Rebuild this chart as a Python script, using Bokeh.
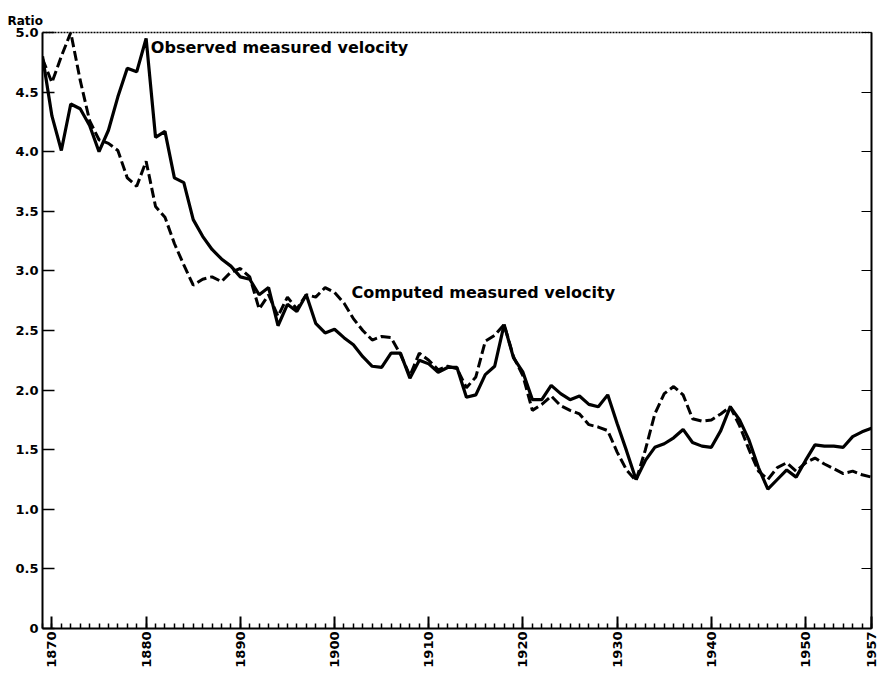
import math
from bokeh.plotting import figure
from bokeh.models import (Range1d, FixedTicker, LinearAxis, Label, ColumnDataSource)
from bokeh.embed import file_html
from bokeh.resources import INLINE

years = list(range(1869, 1958))

observed = [
    4.80, 4.30, 4.01, 4.40, 4.36, 4.22, 4.00, 4.18, 4.46, 4.70,   # 1869-1878
    4.67, 4.95, 4.12, 4.17, 3.78, 3.74, 3.43, 3.29, 3.18, 3.10,   # 1879-1888
    3.04, 2.95, 2.93, 2.80, 2.86, 2.54, 2.72, 2.66, 2.80, 2.56,   # 1889-1898
    2.48, 2.51, 2.44, 2.38, 2.28, 2.20, 2.19, 2.31, 2.31, 2.10,   # 1899-1908
    2.25, 2.22, 2.15, 2.19, 2.19, 1.94, 1.96, 2.13, 2.20, 2.55,   # 1909-1918
    2.27, 2.15, 1.92, 1.92, 2.04, 1.97, 1.92, 1.95, 1.88, 1.86,   # 1919-1928
    1.96, 1.72, 1.49, 1.25, 1.41, 1.52, 1.55, 1.60, 1.67, 1.56,   # 1929-1938
    1.53, 1.52, 1.66, 1.86, 1.75, 1.58, 1.35, 1.17, 1.25, 1.33,   # 1939-1948
    1.27, 1.41, 1.54, 1.53, 1.53, 1.52, 1.61, 1.65, 1.68,         # 1949-1957
]

computed = [
    4.78, 4.58, 4.80, 5.00, 4.60, 4.26, 4.10, 4.07, 4.01, 3.78,   # 1869-1878
    3.71, 3.92, 3.54, 3.45, 3.23, 3.05, 2.88, 2.93, 2.95, 2.91,   # 1879-1888
    2.99, 3.02, 2.95, 2.68, 2.80, 2.62, 2.78, 2.68, 2.80, 2.78,   # 1889-1898
    2.86, 2.82, 2.73, 2.60, 2.50, 2.42, 2.45, 2.44, 2.30, 2.12,   # 1899-1908
    2.31, 2.25, 2.17, 2.20, 2.18, 2.02, 2.11, 2.41, 2.46, 2.55,   # 1909-1918
    2.28, 2.12, 1.83, 1.88, 1.95, 1.87, 1.83, 1.80, 1.71, 1.69,   # 1919-1928
    1.66, 1.48, 1.33, 1.24, 1.50, 1.80, 1.97, 2.03, 1.96, 1.76,   # 1929-1938
    1.74, 1.75, 1.80, 1.86, 1.70, 1.50, 1.32, 1.25, 1.35, 1.39,   # 1939-1948
    1.32, 1.39, 1.43, 1.38, 1.34, 1.30, 1.32, 1.29, 1.27,         # 1949-1957
]

x_ticks = [1870, 1880, 1890, 1900, 1910, 1920, 1930, 1940, 1950, 1957]
y_ticks = [0, 0.5, 1.0, 1.5, 2.0, 2.5, 3.0, 3.5, 4.0, 4.5, 5.0]
y_tick_labels = ["0", "0.5", "1.0", "1.5", "2.0", "2.5", "3.0", "3.5", "4.0", "4.5", "5.0"]

FONT = "DejaVu Sans"

p = figure(width=878, height=670, output_backend="svg", toolbar_location=None,
           x_range=Range1d(1869, 1957), y_range=Range1d(0, 5.0),
           min_border_left=42, min_border_right=7, min_border_top=32,
           min_border_bottom=41, background_fill_color="white",
           border_fill_color="white")
p.outline_line_color = None
p.grid.visible = False

p.title.text = "Ratio"
p.title.align = "left"
p.title.offset = -35
p.title.text_font = FONT
p.title.text_font_size = "12px"
p.title.text_font_style = "bold"
p.title.text_color = "black"
p.title.standoff = 10

src = ColumnDataSource(dict(year=years, obs=observed, comp=computed))
p.line("year", "comp", source=src, line_color="black", line_width=3,
       line_dash="10 4")
p.line("year", "obs", source=src, line_color="black", line_width=3.2)

# x axis
xa = p.xaxis[0]
xa.ticker = FixedTicker(ticks=x_ticks, minor_ticks=years)
xa.major_label_orientation = math.pi / 2
xa.major_tick_in = 12
xa.major_tick_out = 0
xa.minor_tick_in = 5
xa.minor_tick_out = 0
xa.axis_line_width = 2
xa.major_tick_line_width = 2
xa.minor_tick_line_width = 1.5
xa.major_label_text_font = FONT
xa.major_label_text_font_size = "13px"
xa.major_label_text_font_style = "bold"
xa.major_label_text_color = "black"
xa.major_label_standoff = 3

# y axis
ya = p.yaxis[0]
ya.ticker = FixedTicker(ticks=y_ticks, minor_ticks=[])
ya.major_label_overrides = dict(zip(y_ticks, y_tick_labels))
ya.major_tick_in = 12
ya.major_tick_out = 0
ya.axis_line_width = 2
ya.major_tick_line_width = 1.5
ya.major_label_text_font = FONT
ya.major_label_text_font_size = "13px"
ya.major_label_text_font_style = "bold"
ya.major_label_text_color = "black"
ya.major_label_standoff = 4

# right axis with inward ticks only
ra = LinearAxis(ticker=FixedTicker(ticks=y_ticks, minor_ticks=[]))
ra.major_label_overrides = {t: "" for t in y_ticks}
ra.major_tick_in = 10
ra.major_tick_out = 0
ra.axis_line_width = 2
ra.major_label_standoff = 0
p.add_layout(ra, "right")

# top dotted border
ta = LinearAxis(ticker=FixedTicker(ticks=[], minor_ticks=[]))
ta.axis_line_dash = "2 1"
ta.axis_line_width = 1.5
ta.major_label_standoff = 0
p.add_layout(ta, "above")

p.add_layout(Label(x=1880.5, y=4.87, text="Observed measured velocity",
                   text_font=FONT, text_font_size="16px", text_font_style="bold",
                   text_baseline="middle", text_color="black"))
p.add_layout(Label(x=1901.8, y=2.82, text="Computed measured velocity",
                   text_font=FONT, text_font_size="16px", text_font_style="bold",
                   text_baseline="middle", text_color="black"))

open("out.html", "w").write(file_html(p, INLINE))
